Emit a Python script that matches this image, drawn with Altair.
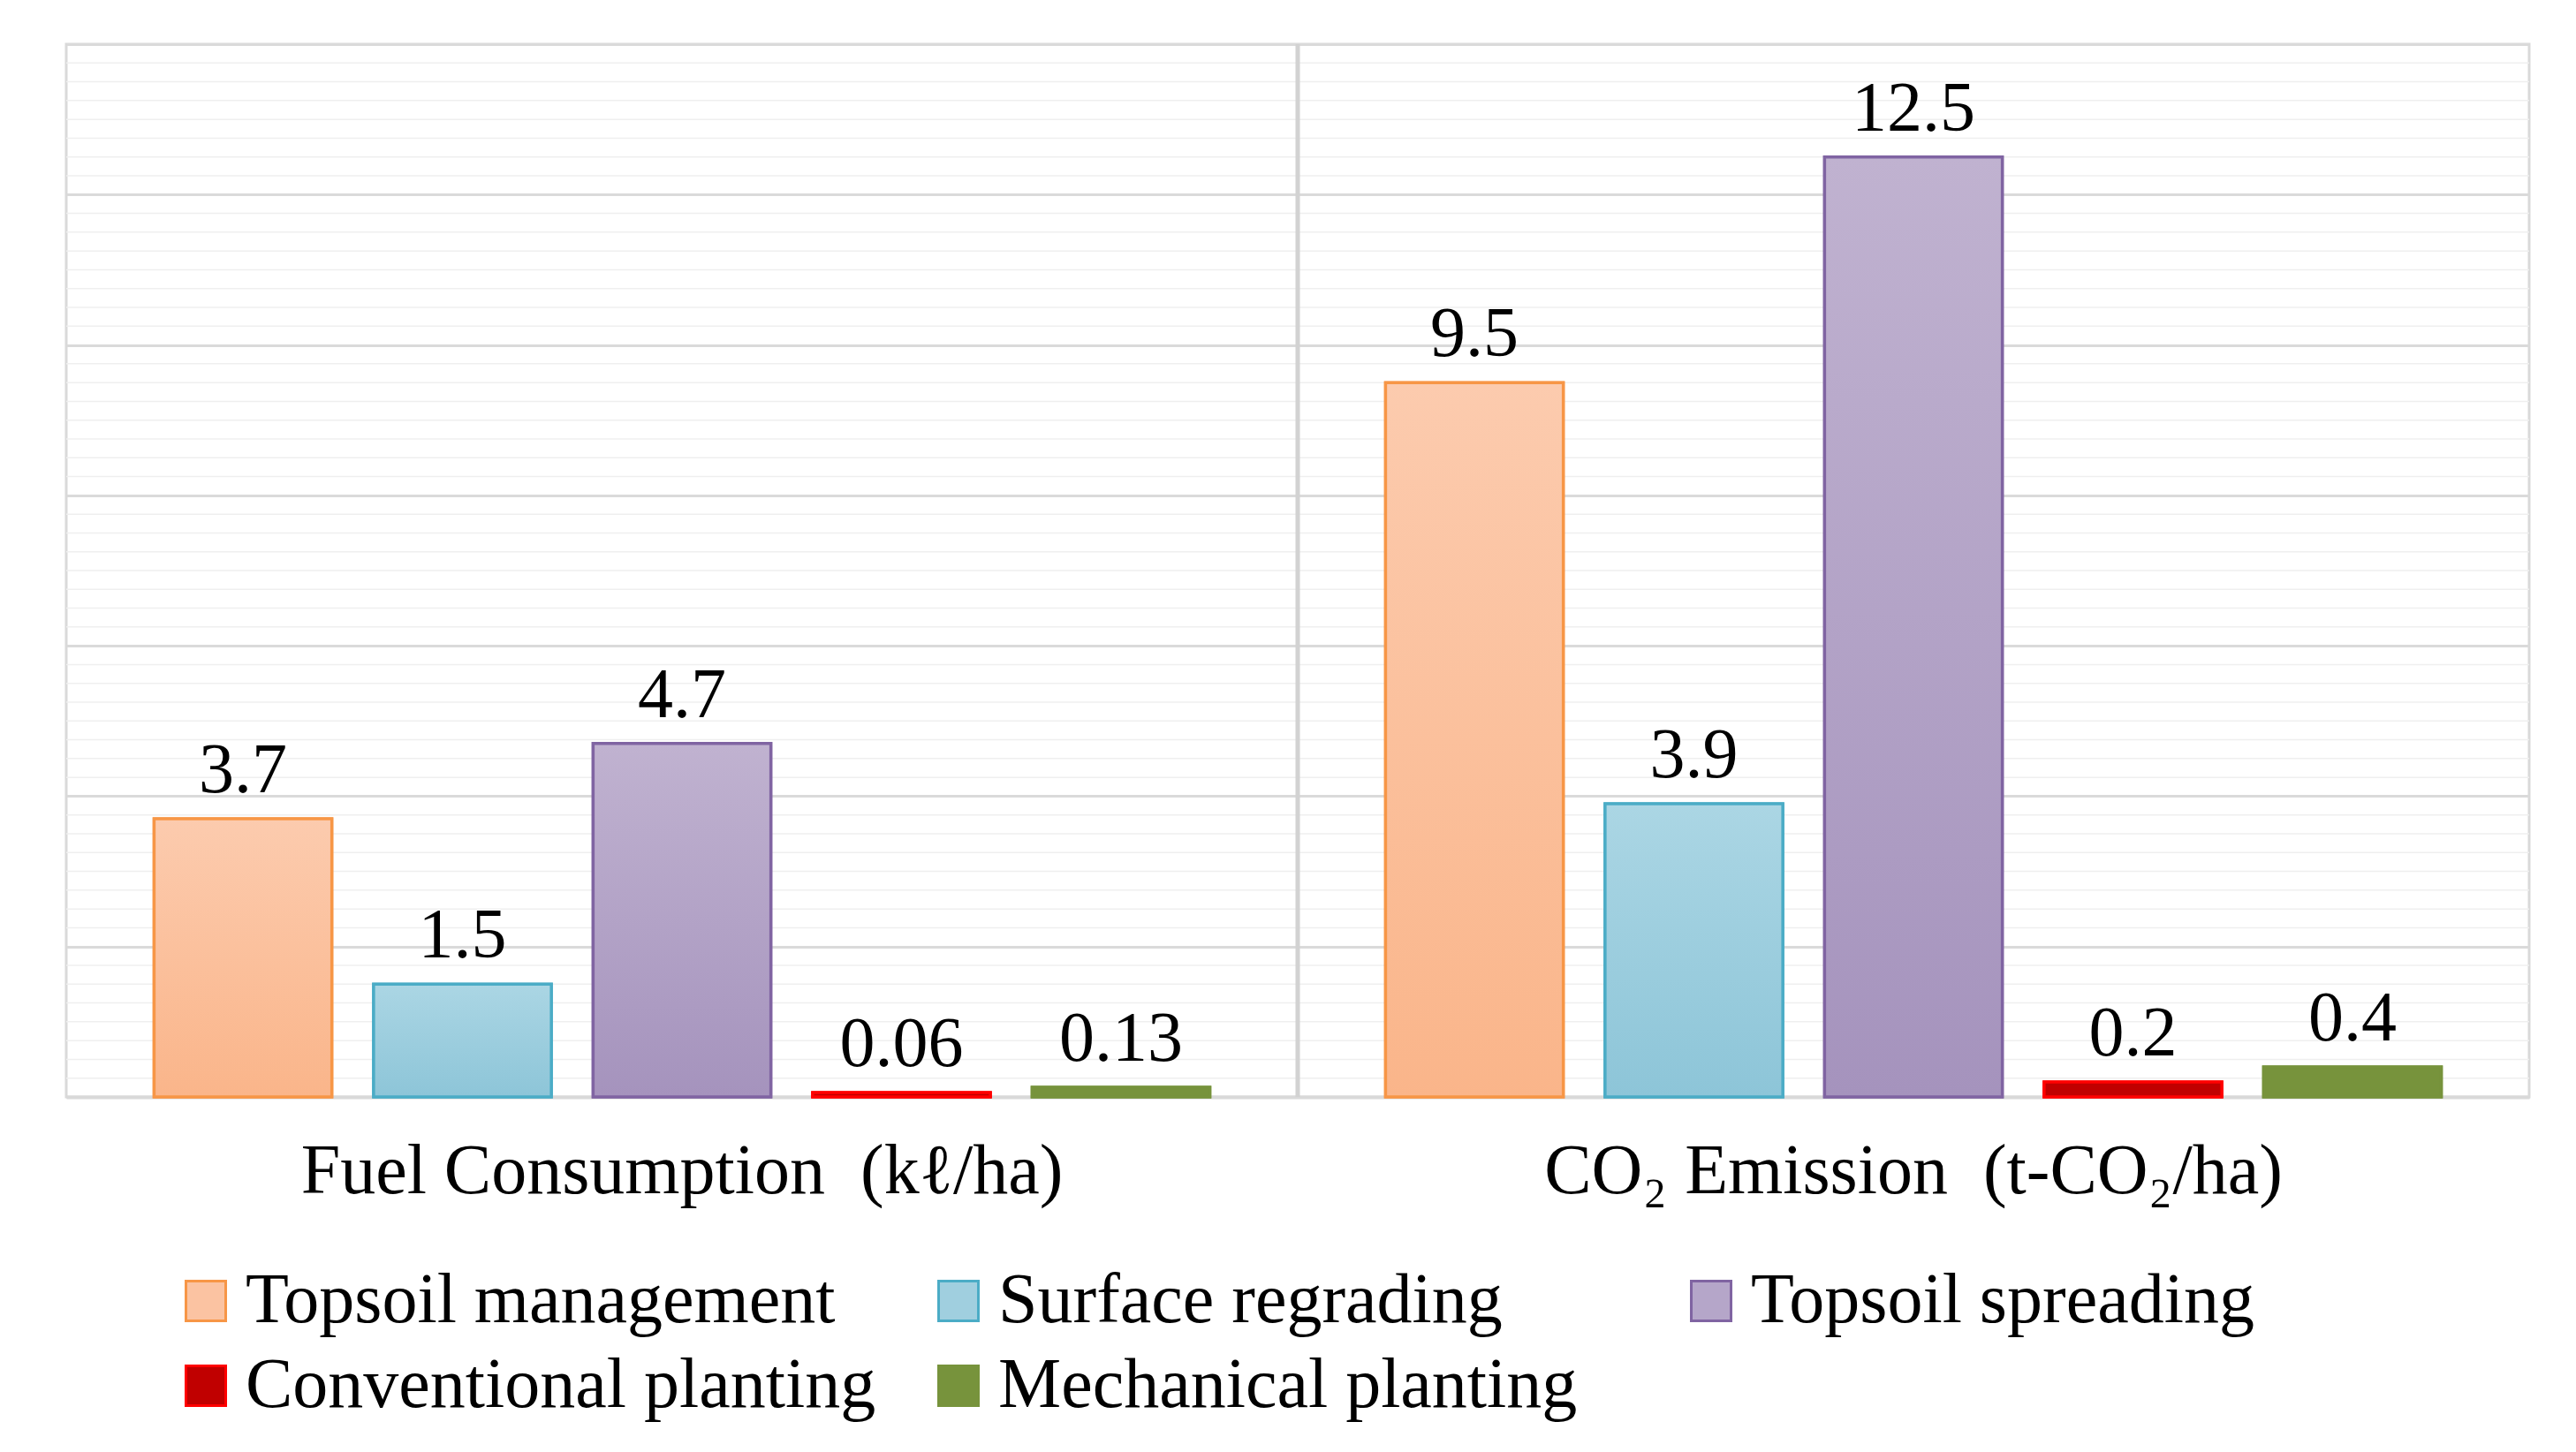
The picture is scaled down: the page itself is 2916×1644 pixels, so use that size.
import altair as alt
import pandas as pd

FONT = "Liberation Serif"

groups = ["Fuel Consumption\u00a0 (k\u2113/ha)", "CO\u2082 Emission\u00a0 (t-CO\u2082/ha)"]
series = ["Topsoil management", "Surface regrading", "Topsoil spreading",
          "Conventional planting", "Mechanical planting"]
fuel_values = [3.7, 1.5, 4.7, 0.06, 0.13]
co2_values = [9.5, 3.9, 12.5, 0.2, 0.4]
fuel_labels = ["3.7", "1.5", "4.7", "0.06", "0.13"]
co2_labels = ["9.5", "3.9", "12.5", "0.2", "0.4"]

y_major_ticks = [0, 2, 4, 6, 8, 10, 12, 14]
y_minor_ticks = [i * 0.25 for i in range(1, 56) if i % 8 != 0]

grad_top = ["#FCCBAE", "#ABD6E4", "#C0B2D0", "#C00000", "#77933C"]
grad_bottom = ["#FAB58A", "#8DC5D8", "#A593BD", "#C00000", "#77933C"]
border_colors = ["#F79646", "#4BACC6", "#8064A2", "#FF0000", "#77933C"]
legend_fill = ["#FBC3A2", "#A0CFDF", "#B5A6C9", "#C00000", "#77933C"]

rows = []
for g, vals, labs in [(groups[0], fuel_values, fuel_labels), (groups[1], co2_values, co2_labels)]:
    for s, v, l in zip(series, vals, labs):
        rows.append({"group": g, "series": s, "value": v, "label": l})
df = pd.DataFrame(rows)

FS = 80

x_axis = alt.Axis(title=None, labelFont=FONT, labelFontSize=FS, labelColor="black",
                  labelAngle=0, ticks=False, domain=True, domainColor="#D9D9D9",
                  domainWidth=4, labelPadding=45, grid=False, labelLimit=3000)
x_scale = alt.Scale(domain=groups, paddingInner=0, paddingOuter=0)
xo_scale = alt.Scale(domain=series, paddingInner=0.19, paddingOuter=0.4)
y_axis = alt.Axis(title=None, labels=False, ticks=False, domain=False, grid=True,
                  values=y_major_ticks, gridColor="#DADADA", gridWidth=3,
                  minExtent=0, maxExtent=0)
y_scale = alt.Scale(domain=[0, 14], nice=False, zero=True)

def X():
    return alt.X("group:N", scale=x_scale, axis=x_axis, sort=groups)

def XO():
    return alt.XOffset("series:N", scale=xo_scale, sort=series)

def Y(field="value:Q"):
    return alt.Y(field, scale=y_scale, axis=y_axis)

minor = alt.Chart(pd.DataFrame({"value": y_minor_ticks})).mark_rule(
    color="#EFEFEF", strokeWidth=1.5).encode(y=Y())

divider = alt.Chart(pd.DataFrame({"group": [groups[1]]})).mark_rule(
    color="#D2D2D2", strokeWidth=5).encode(
    x=alt.X("group:N", scale=x_scale, axis=x_axis, sort=groups, bandPosition=0))

legend = alt.Legend(title=None, orient="none", legendX=118, legendY=1383,
                    direction="horizontal", columns=3, gridAlign="all",
                    columnPadding=53, rowPadding=16, symbolType="square",
                    symbolSize=2025, symbolStrokeWidth=3, labelFont=FONT,
                    labelFontSize=FS, labelColor="black", labelOffset=5,
                    padding=0, labelLimit=3000)

base = alt.Chart(df).mark_bar(strokeWidth=3).encode(
    x=X(), xOffset=XO(), y=Y(),
    fill=alt.Fill("series:N", sort=series,
                  scale=alt.Scale(domain=series, range=legend_fill), legend=legend),
    stroke=alt.Stroke("series:N", sort=series,
                      scale=alt.Scale(domain=series, range=border_colors), legend=legend),
)

overlays = []
for s, top, bot, bc in zip(series, grad_top, grad_bottom, border_colors):
    grad = alt.Gradient(gradient="linear",
                        stops=[alt.GradientStop(color=top, offset=0),
                               alt.GradientStop(color=bot, offset=1)],
                        x1=0, x2=0, y1=0, y2=1)
    overlays.append(
        alt.Chart(df).transform_filter(alt.datum.series == s).mark_bar(
            fill=grad, stroke=bc, strokeWidth=3.5).encode(x=X(), xOffset=XO(), y=Y())
    )

labels = alt.Chart(df).mark_text(font=FONT, fontSize=FS, baseline="alphabetic",
                                 dy=-30, color="black").encode(
    x=X(), xOffset=XO(), y=Y(), text="label:N")

chart = alt.layer(minor, divider, base, *overlays, labels).properties(
    width=2788, height=1192,
    autosize=alt.AutoSizeParams(type="none"),
    padding={"left": 67, "top": 42, "right": 40, "bottom": 390},
    background="white",
).configure_view(stroke="#D9D9D9", strokeWidth=3)

chart.save("out.html", embed_options={"renderer": "svg", "actions": False})
